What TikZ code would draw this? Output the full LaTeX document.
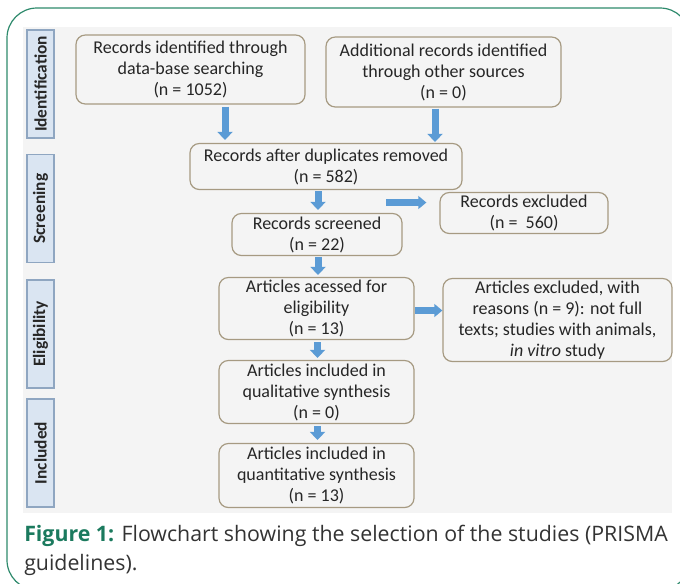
\documentclass[tikz,border=0pt]{standalone}
\usepackage{fontspec}
\setmainfont{Carlito}
\newfontfamily\capfont{Open Sans}
\usetikzlibrary{arrows.meta,calc}
\definecolor{framegreen}{HTML}{2E8A6C}
\definecolor{figgreen}{HTML}{1B7A5E}
\definecolor{bggray}{HTML}{F4F4F4}
\definecolor{boxline}{HTML}{A69A82}
\definecolor{stagefill}{HTML}{DAE5F2}
\definecolor{stageline}{HTML}{8FA6C1}
\definecolor{arrowblue}{HTML}{5B9BD5}
\definecolor{txt}{HTML}{262626}
\definecolor{captxt}{HTML}{333333}
\begin{document}
\begin{tikzpicture}[x=0.75pt,y=-0.75pt,
 box/.style={draw=boxline, line width=0.9pt, rounded corners=7pt, align=center, text=txt,
   font=\fontsize{13.5}{15.75}\selectfont, inner sep=0pt},
 stage/.style={draw=stageline, fill=stagefill, line width=0.9pt, rotate=90,
   font=\bfseries\fontsize{13}{14}\selectfont, text=black!85, minimum height=20.25pt,
   minimum width=81pt, inner sep=0pt},
 blk/.style={draw=arrowblue, line width=5.25pt, -{Triangle[length=6pt,width=11.25pt]}},
 blkh/.style={draw=arrowblue, line width=5.25pt, -{Triangle[length=6pt,width=9.5pt]}}]
\useasboundingbox (0,0) rectangle (680,583);
\begin{scope}
\clip (0,0) rectangle (680,583);
\draw[framegreen, line width=0.9pt, rounded corners=22.5pt] (7,8) rectangle (690,590);
\end{scope}
\fill[bggray] (23,27) rectangle (672,513);

% stage labels
\node[stage] (s1) at (40.5,84) {Identification};
\node[stage] (s2) at (40.5,208.5) {Screening};
\node[stage] (s3) at (40.5,334) {Eligibility};
\node[stage] (s4) at (40.5,453) {Included};

% boxes
\node[box, minimum width=171.75pt, minimum height=51.75pt] (b1) at (190.5,69.5)
  {Records identified through\\data-base searching\\(n = 1052)};
\node[box, minimum width=176.25pt, minimum height=52.5pt] (b2) at (443.5,72)
  {Additional records identified\\through other sources\\(n = 0)};
\node[box, minimum width=204pt, minimum height=34.5pt] (b3) at (326,166.5)
  {Records after duplicates removed\\(n = 582)};
\node[box, minimum width=126pt, minimum height=30.75pt] (b4) at (524,213)
  {Records excluded\\(n =\ \ 560)};
\node[box, minimum width=127.5pt, minimum height=31.5pt] (b5) at (317,234.5)
  {Records screened\\(n = 22)};
\node[box, minimum width=146.25pt, minimum height=46.5pt] (b6) at (316.5,308.5)
  {Articles acessed for\\eligibility\\(n = 13)};
\node[box, minimum width=171.75pt, minimum height=62.25pt] (b7) at (557.5,320)
  {Articles excluded, with\\reasons (n = 9): not full\\texts; studies with animals,\\\textit{in vitro} study};
\node[box, minimum width=146.25pt, minimum height=47.25pt] (b8) at (316.5,392)
  {Articles included in\\qualitative synthesis\\(n = 0)};
\node[box, minimum width=146.25pt, minimum height=48pt] (b9) at (316.5,475.5)
  {Articles included in\\quantitative synthesis\\(n = 13)};

% arrows
\draw[blk] ($(b1.south)+(34.5,2)$) -- ($(b1.south |- b3.north)+(34.5,-3)$);
\draw[blk] ($(b2.south)+(-8.5,1)$) -- ($(b2.south |- b3.north)+(-8.5,-1)$);
\draw[blk] ($(b5.north |- b3.south)+(1,1)$) -- ($(b5.north)+(1,-3)$);
\draw[blkh] ($(b4.west)+(-53,-10.5)$) -- ($(b4.west)+(-13,-10.5)$);
\draw[blk] ($(b5.south)+(1,1)$) -- ($(b5.south |- b6.north)+(1,-2)$);
\draw[blkh] ($(b6.east)+(0,2)$) -- ($(b6.east -| b7.west)+(0,2)$);
\draw[blk] ($(b6.south)+(1,2)$) -- ($(b8.north)+(1,-2)$);
\draw[blk] ($(b8.south)+(1,2)$) -- ($(b9.north)+(1,-3)$);

% caption
\node[anchor=base west, align=left, inner sep=0pt, text=captxt,
  font=\capfont\fontsize{16}{21.3}\selectfont] (cap) at (24,570)
  {\textcolor{figgreen}{\bfseries Figure 1:} Flowchart showing the selection of the studies (PRISMA\\guidelines).};
\end{tikzpicture}
\end{document}
